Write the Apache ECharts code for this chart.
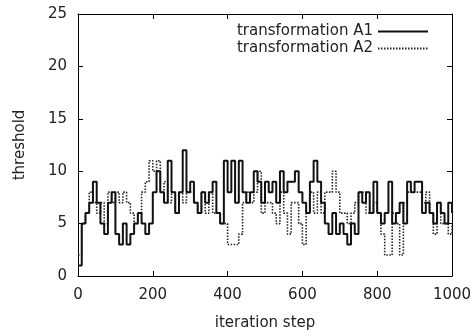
<!DOCTYPE html>
<html>
<head>
<meta charset="utf-8">
<script src="https://cdn.jsdelivr.net/npm/echarts@6/dist/echarts.min.js"></script>
<style>
html,body{margin:0;padding:0;background:#fff;}
#chart{width:475px;height:336px;}
</style>
</head>
<body>
<div id="chart"></div>
<script>
// Sampled every 10 iteration steps (0..1000)
const stepSize = 10;
const seriesNames = ['transformation A1', 'transformation A2'];
const xTickLabels = ['0', '200', '400', '600', '800', '1000'];
const yTickLabels = ['0', '5', '10', '15', '20', '25'];

const thresholdA1 = [
  1,5,6,7,9,7,5,4,7,8,
  4,3,5,3,4,5,6,5,4,5,
  8,10,8,7,11,8,6,8,12,8,
  9,7,6,8,7,8,9,6,5,11,
  8,11,7,11,8,7,8,10,9,7,
  9,8,9,7,10,8,9,9,10,8,
  7,6,9,11,9,7,5,4,6,4,
  5,4,3,5,4,8,7,8,6,9,
  6,5,6,9,5,6,7,5,9,8,
  9,9,6,7,6,5,7,6,5,7,6
];

const thresholdA2 = [
  2,5,6,8,7,6,7,5,8,7,
  8,7,8,7,6,5,6,8,9,11,
  10,11,8,9,7,8,6,8,7,8,
  8,7,6,8,6,8,6,6,5,5,
  3,3,3,4,7,8,7,8,10,6,
  7,7,6,5,8,6,4,7,7,5,
  3,6,8,6,8,6,8,8,10,8,
  6,6,5,6,7,8,8,6,6,7,
  6,4,2,2,6,5,2,7,8,8,
  8,8,7,8,6,4,7,5,5,4,5
];

const toPairs = arr => arr.map((v, i) => [i * stepSize, v]);
const FONT = 'DejaVu Sans';
const TXT = '#222';

const tickCommon = { show: true, inside: true, length: 5, lineStyle: { color: '#000', width: 1 } };
const lineCommon = { show: true, onZero: false, lineStyle: { color: '#000', width: 1 } };

const chart = echarts.init(document.getElementById('chart'), null, { renderer: 'canvas' });
chart.setOption({
  animation: false,
  backgroundColor: '#fff',
  grid: { left: 78, right: 23, top: 14, bottom: 60 },
  legend: {
    orient: 'vertical',
    right: 41,
    top: 19,
    align: 'right',
    itemWidth: 50,
    itemHeight: 12,
    itemGap: 2,
    data: seriesNames,
    itemStyle: { opacity: 0 },
    textStyle: { fontFamily: FONT, fontSize: 15, color: TXT }
  },
  xAxis: [{
    type: 'value', min: 0, max: 1000, interval: 200,
    name: 'iteration step', nameLocation: 'middle', nameGap: 40,
    nameTextStyle: { fontFamily: FONT, fontSize: 15, color: TXT },
    axisLine: lineCommon, axisTick: tickCommon, splitLine: { show: false },
    axisLabel: {
      margin: 12, fontFamily: FONT, fontSize: 15, color: TXT,
      formatter: v => xTickLabels[Math.round(v / 200)]
    }
  }, {
    type: 'value', min: 0, max: 1000, interval: 200, position: 'top',
    axisLine: lineCommon, axisTick: tickCommon, splitLine: { show: false },
    axisLabel: { show: false }
  }],
  yAxis: [{
    type: 'value', min: 0, max: 25, interval: 5,
    name: 'threshold', nameLocation: 'middle', nameGap: 50, nameRotate: 90,
    nameTextStyle: { fontFamily: FONT, fontSize: 15, color: TXT },
    axisLine: lineCommon, axisTick: tickCommon, splitLine: { show: false },
    axisLabel: {
      margin: 11, fontFamily: FONT, fontSize: 15, color: TXT,
      formatter: v => yTickLabels[Math.round(v / 5)]
    }
  }, {
    type: 'value', min: 0, max: 25, interval: 5, position: 'right',
    axisLine: lineCommon, axisTick: tickCommon, splitLine: { show: false },
    axisLabel: { show: false }
  }],
  series: [{
    name: seriesNames[0], type: 'line', step: 'end',
    xAxisIndex: 0, yAxisIndex: 0,
    symbol: 'none', showSymbol: false,
    data: toPairs(thresholdA1),
    lineStyle: { color: '#111', width: 2, type: 'solid' },
    itemStyle: { color: '#111' },
    z: 3
  }, {
    name: seriesNames[1], type: 'line', step: 'end',
    xAxisIndex: 0, yAxisIndex: 0,
    symbol: 'none', showSymbol: false,
    data: toPairs(thresholdA2),
    lineStyle: { color: '#222', width: 1.6, type: [1.5, 1.5] },
    itemStyle: { color: '#222' },
    z: 2
  }]
});
</script>
</body>
</html>
